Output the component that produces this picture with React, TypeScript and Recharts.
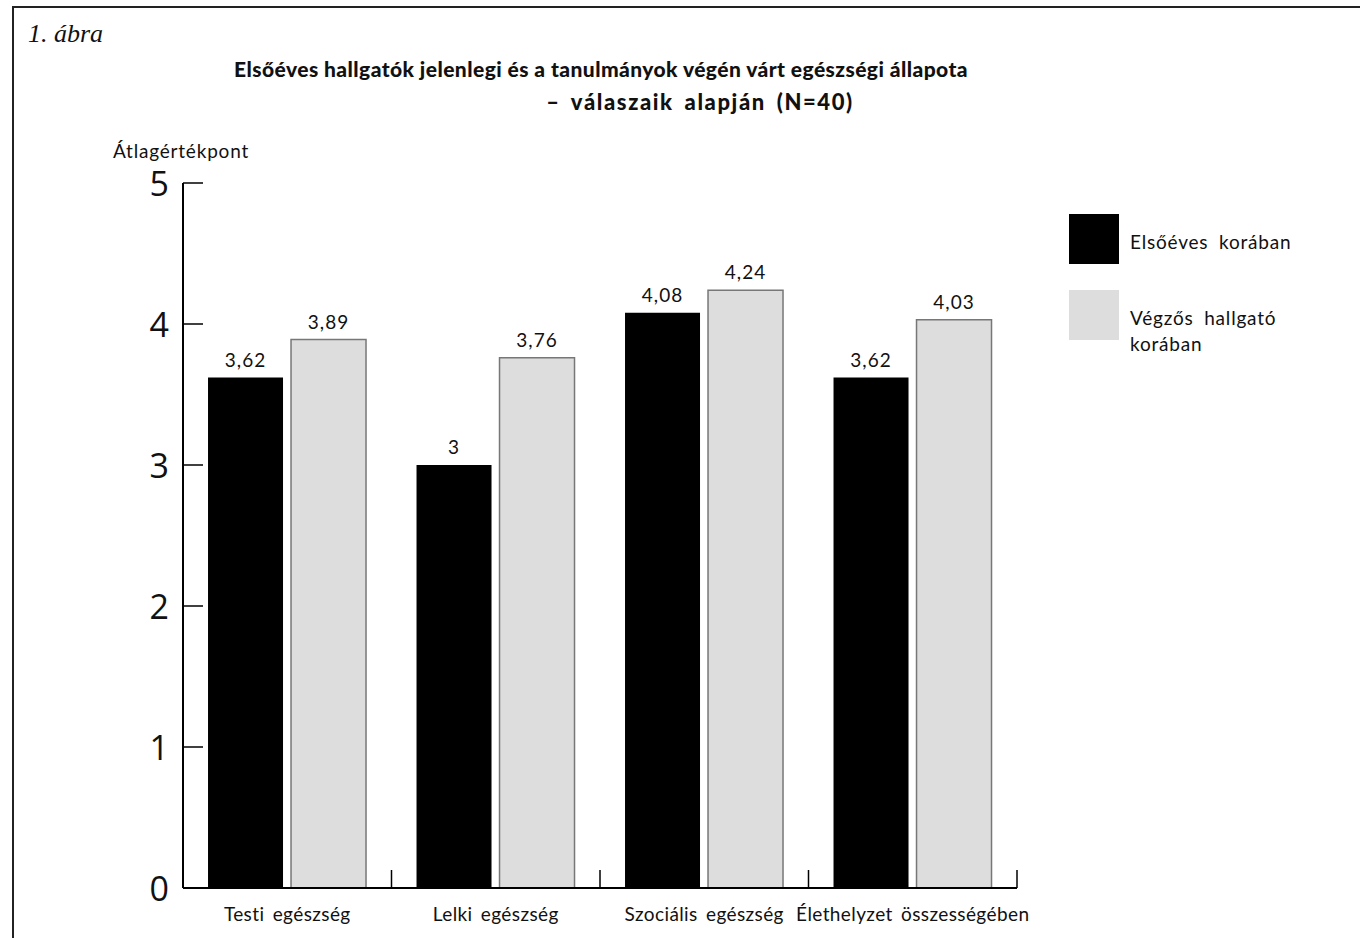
import React from 'react';
import { BarChart, Bar, XAxis, YAxis, LabelList, Legend } from 'recharts';

// Categories and mean scores (1–5 scale)
const categories = ['Testi egészség', 'Lelki egészség', 'Szociális egészség', 'Élethelyzet összességében'];
const firstYear = [3.62, 3.0, 4.08, 3.62];
const graduating = [3.89, 3.76, 4.24, 4.03];
const yTicks = [0, 1, 2, 3, 4, 5];

const seriesNames = ['Elsőéves korában', 'Végzős hallgató korában'];
const seriesFill = ['#000000', '#dddddd'];
const seriesStroke = ['none', '#777777'];

const data = categories.map((cat, i) => ({ cat, first: firstYear[i], grad: graduating[i] }));

const FONT = 'Lato, "Open Sans", sans-serif';

const fmt = (v: any) => String(v).replace('.', ',');

const YTick = (props: any) => {
  const { x, y, payload } = props;
  return (
    <g>
      <line x1={x} x2={x + 20} y1={y} y2={y} stroke="#000" strokeWidth={1.5} />
      <text x={x - 14} y={y} textAnchor="end" dominantBaseline="central" fontFamily='"Open Sans", sans-serif' fontSize={34} fill="#111">
        {payload.value}
      </text>
    </g>
  );
};

const XTick = (props: any) => {
  const { x, y, payload } = props;
  const half = payload.offset ?? 0;
  return (
    <g>
      <line x1={x + half} x2={x + half} y1={y} y2={y - 18} stroke="#000" strokeWidth={1.5} />
      <text x={x} y={y + 33} textAnchor="middle" fontFamily={FONT} fontSize={19} fill="#111" style={{ wordSpacing: '3px', letterSpacing: '0.4px' }}>
        {payload.value}
      </text>
    </g>
  );
};

const LegendContent = () => (
  <div style={{ fontFamily: FONT, fontSize: 19, color: '#111', letterSpacing: '0.8px' }}>
    {seriesNames.map((name, i) => (
      <div key={name} style={{ display: 'flex', alignItems: 'flex-start', height: 76 }}>
        <div style={{ width: 50, height: 50, background: seriesFill[i], flex: 'none' }} />
        <div style={{ marginLeft: 11, width: 180, lineHeight: '26px', paddingTop: 15, wordSpacing: '5px' }}>{name}</div>
      </div>
    ))}
  </div>
);

const titleStyle: React.CSSProperties = {
  position: 'absolute',
  textAlign: 'center',
  fontFamily: FONT,
  fontWeight: 900,
  fontSize: 21,
  lineHeight: '33px',
  color: '#111',
  whiteSpace: 'nowrap',
};

export default function App() {
  return (
    <div style={{ position: 'absolute', left: 0, top: 0, width: 1360, height: 938, background: '#fff', overflow: 'hidden' }}>
      <div style={{ position: 'absolute', left: 28, top: 19, fontFamily: '"Liberation Serif", "Times New Roman", serif', fontStyle: 'italic', fontSize: 26, color: '#111' }}>
        1. ábra
      </div>
      <div style={{ ...titleStyle, left: 201, width: 800, top: 52, letterSpacing: '0.43px' }}>
        Elsőéves hallgatók jelenlegi és a tanulmányok végén várt egészségi állapota
      </div>
      <div style={{ ...titleStyle, left: 500, width: 400, top: 85, fontSize: 22, letterSpacing: '1.6px', wordSpacing: '4px' }}>
        – válaszaik alapján (N=40)
      </div>
      <div style={{ position: 'absolute', left: 113, top: 139, fontFamily: FONT, fontSize: 19, letterSpacing: '0.8px', color: '#111' }}>
        Átlagértékpont
      </div>
      <div style={{ position: 'absolute', left: 0, top: 0 }}>
        <BarChart
          width={1360}
          height={938}
          data={data}
          margin={{ top: 183, right: 343, bottom: 0, left: 0 }}
          barCategoryGap="12%"
          barGap={8}
        >
          <XAxis
            dataKey="cat"
            height={50}
            axisLine={{ stroke: '#000', strokeWidth: 2 }}
            tickLine={false}
            tickSize={0}
            tickMargin={0}
            tick={<XTick />}
            interval={0}
          />
          <YAxis
            width={183}
            domain={[0, 5]}
            ticks={yTicks}
            axisLine={{ stroke: '#000', strokeWidth: 2 }}
            tickLine={false}
            tickSize={0}
            tickMargin={0}
            tick={<YTick />}
            interval={0}
          />
          <Legend
            layout="vertical"
            align="center"
            verticalAlign="middle"
            content={<LegendContent />}
            wrapperStyle={{ left: 1069, top: 214, width: 290 }}
          />
          <Bar dataKey="first" name={seriesNames[0]} fill={seriesFill[0]} stroke={seriesStroke[0]} isAnimationActive={false}>
            <LabelList dataKey="first" position="top" offset={11} formatter={fmt} style={{ fontFamily: FONT, fontSize: 19, fill: '#111', letterSpacing: '1px' }} />
          </Bar>
          <Bar dataKey="grad" name={seriesNames[1]} fill={seriesFill[1]} stroke={seriesStroke[1]} strokeWidth={1.5} isAnimationActive={false}>
            <LabelList dataKey="grad" position="top" offset={11} formatter={fmt} style={{ fontFamily: FONT, fontSize: 19, fill: '#111', letterSpacing: '1px' }} />
          </Bar>
        </BarChart>
      </div>
      {/* frame lines along the top and left edges */}
      <div style={{ position: 'absolute', left: 12, top: 6, width: 1348, height: 2, background: '#222', zIndex: 5 }} />
      <div style={{ position: 'absolute', left: 12, top: 6, width: 2, height: 932, background: '#222', zIndex: 5 }} />
    </div>
  );
}
